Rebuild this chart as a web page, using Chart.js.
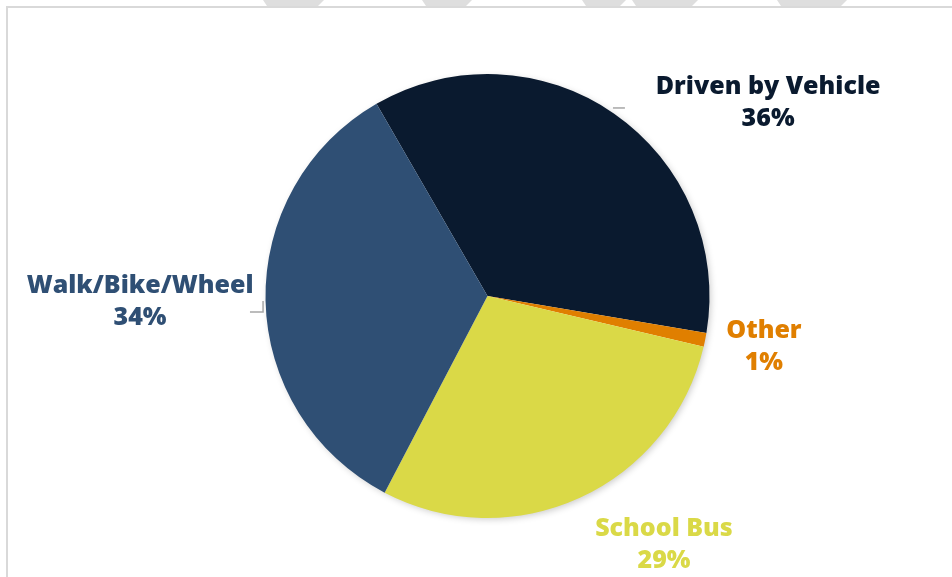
<!DOCTYPE html>
<html>
<head>
<meta charset="utf-8">
<script src="https://cdn.jsdelivr.net/npm/chart.js@4"></script>
<style>
  html, body { margin: 0; padding: 0; background: #fff; }
  #wrap { position: relative; width: 952px; height: 577px; overflow: hidden; }
  #frame { position: absolute; left: 6px; top: 6px; width: 960px; height: 600px;
           border-left: 2px solid #d9d9d9; border-top: 2px solid #d9d9d9; }
  canvas { position: absolute; left: 0; top: 0; }
</style>
</head>
<body>
<div id="wrap">
  <div id="frame"></div>
  <canvas id="modeChart" width="952" height="577"></canvas>
</div>
<script>
// How students get to school
const modes = ['Driven by Vehicle', 'Other', 'School Bus', 'Walk/Bike/Wheel'];
const shares = [36, 1, 29, 34];
const sliceColors = ['#0a1a2f', '#e07f00', '#dad947', '#2f4f74'];

// label anchors and leader lines, in units of the pie radius from its centre
const labelSpots = [[1.264, -0.868], [1.245, 0.231], [0.795, 1.123], [-1.565, 0.028]];
const leaders = [
  [[0.565, -0.847], [0.619, -0.847]],
  null,
  null,
  [[-1.070, 0.072], [-1.011, 0.072], [-1.011, 0.023]]
];

// grey bands peeking above the frame
const topBands = [
  [263, 324, 318], [422, 472, 466], [582, 626, 620], [632, 698, 692], [777, 847, 841]
];

const backdrop = {
  id: 'backdrop',
  beforeDraw(chart) {
    const ctx = chart.ctx;
    ctx.save();
    ctx.fillStyle = '#dedede';
    topBands.forEach(([a, b, c]) => {
      ctx.beginPath();
      ctx.moveTo(a, 0);
      ctx.lineTo(b, 0);
      ctx.lineTo(c, 6);
      ctx.lineTo(a + 4, 6);
      ctx.closePath();
      ctx.fill();
    });
    ctx.restore();
  }
};

// one soft shadow under the whole pie, not under each slice
const softShadow = {
  id: 'softShadow',
  beforeDatasetsDraw(chart) {
    const ctx = chart.ctx;
    const arc = chart.getDatasetMeta(0).data[0];
    ctx.save();
    ctx.shadowColor = 'rgba(0,0,0,0.22)';
    ctx.shadowBlur = 7;
    ctx.shadowOffsetX = 2;
    ctx.shadowOffsetY = 2;
    ctx.fillStyle = '#ffffff';
    ctx.beginPath();
    ctx.arc(arc.x, arc.y, arc.outerRadius - 1, 0, Math.PI * 2);
    ctx.fill();
    ctx.restore();
  }
};

const sliceLabels = {
  id: 'sliceLabels',
  afterDraw(chart) {
    const ctx = chart.ctx;
    const arc = chart.getDatasetMeta(0).data[0];
    const cx = arc.x, cy = arc.y, r = arc.outerRadius;
    ctx.save();
    ctx.strokeStyle = '#a6a6a6';
    ctx.lineWidth = 1.5;
    leaders.forEach(pts => {
      if (!pts) return;
      ctx.beginPath();
      pts.forEach(([px, py], k) => {
        const x = cx + px * r, y = cy + py * r;
        k ? ctx.lineTo(x, y) : ctx.moveTo(x, y);
      });
      ctx.stroke();
    });
    ctx.font = '800 25px "Open Sans"';
    ctx.textAlign = 'center';
    ctx.textBaseline = 'middle';
    modes.forEach((m, i) => {
      const x = cx + labelSpots[i][0] * r;
      const y = cy + labelSpots[i][1] * r;
      ctx.fillStyle = sliceColors[i];
      ctx.fillText(m, x, y - 16);
      ctx.fillText(shares[i] + '%', x, y + 16);
    });
    ctx.restore();
  }
};

new Chart(document.getElementById('modeChart'), {
  type: 'pie',
  data: {
    labels: modes,
    datasets: [{
      data: shares,
      backgroundColor: sliceColors,
      borderWidth: 0
    }]
  },
  options: {
    responsive: false,
    animation: false,
    rotation: -30,
    layout: { padding: { left: 265, right: 242, top: 74, bottom: 59 } },
    plugins: {
      legend: { display: false },
      tooltip: { enabled: false }
    }
  },
  plugins: [backdrop, softShadow, sliceLabels]
});
</script>
</body>
</html>
